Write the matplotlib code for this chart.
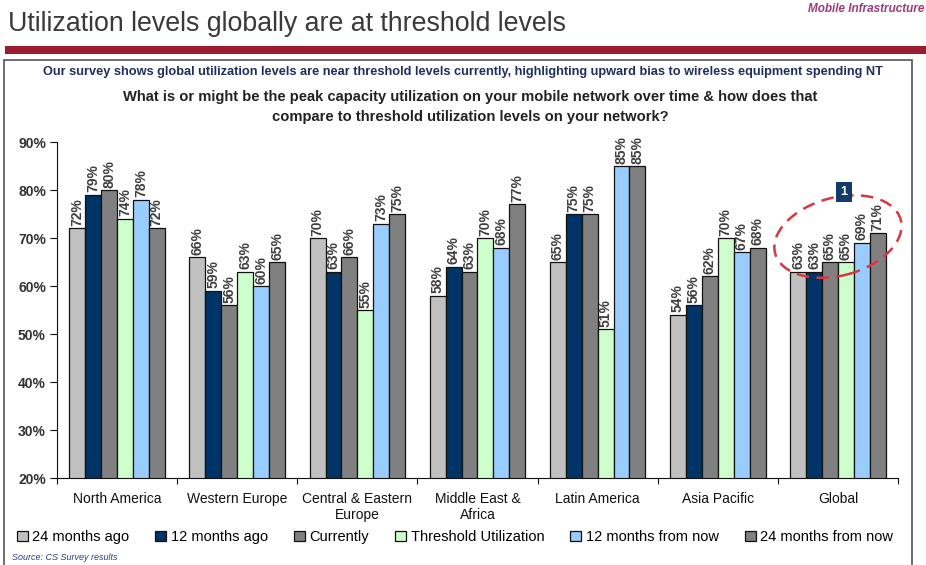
import numpy as np
import matplotlib
matplotlib.use("Agg")
import matplotlib.pyplot as plt
from matplotlib.patches import Ellipse, Rectangle
from matplotlib.transforms import ScaledTranslation
from matplotlib import font_manager

# dados do gráfico
regions = ["North America", "Western Europe", "Central & Eastern\nEurope",
           "Middle East &\nAfrica", "Latin America", "Asia Pacific", "Global"]
series_names = ["24 months ago", "12 months ago", "Currently",
                "Threshold Utilization", "12 months from now", "24 months from now"]
ago_24 = [72, 66, 70, 58, 65, 54, 63]
ago_12 = [79, 59, 63, 64, 75, 56, 63]
currently = [80, 56, 66, 63, 75, 62, 65]
threshold = [74, 63, 55, 70, 51, 70, 65]
from_now_12 = [78, 60, 73, 68, 85, 67, 69]
from_now_24 = [72, 65, 75, 77, 85, 68, 71]
yticks = [20, 30, 40, 50, 60, 70, 80, 90]

series = [ago_24, ago_12, currently, threshold, from_now_12, from_now_24]
colors = ["#C0C0C0", "#003366", "#808080", "#CCFFCC", "#99CCFF", "#808080"]

# fonte estreita se existir
names = {f.name for f in font_manager.fontManager.ttflist}
narrow = "Liberation Sans Narrow" if "Liberation Sans Narrow" in names else "Liberation Sans"
plt.rcParams["font.family"] = [narrow, "DejaVu Sans"]

fig = plt.figure(figsize=(9.26, 5.65), dpi=100)
W, H = 926, 565

def fx(px):
    return px / W

def fy(py):
    return 1 - py / H

# cabeçalho
fig.text(fx(8), fy(24), "Utilization levels globally are at threshold levels",
         fontsize=19.3, color="#3A3A3A", va="center", ha="left")
fig.text(fx(924), fy(9), "Mobile Infrastructure", fontsize=8.5, style="italic",
         weight="bold", color="#9E3A7A", va="center", ha="right")
fig.patches.append(Rectangle((fx(5), fy(54)), fx(921), 8 / H, transform=fig.transFigure,
                             facecolor="#9B1B30", edgecolor="none"))
fig.patches.append(Rectangle((fx(4), fy(566)), fx(908), 506 / H, transform=fig.transFigure,
                             facecolor="none", edgecolor="#555555", linewidth=1.2))

fig.text(fx(463), fy(72), "Our survey shows global utilization levels are near threshold levels currently, "
         "highlighting upward bias to wireless equipment spending NT",
         fontsize=9.2, weight="bold", color="#1F2F5F", ha="center", va="center")
fig.text(fx(470), fy(107), "What is or might be the peak capacity utilization on your mobile network over time & how does that\n"
         "compare to threshold utilization levels on your network?",
         fontsize=10.6, weight="bold", color="#222222", ha="center", va="center", linespacing=1.55)

# eixo principal
ax = fig.add_axes([fx(57), fy(478), (898 - 57) / W, (478 - 142) / H])
x = np.arange(len(regions))
bw = 0.1325
for i, (vals, c, name) in enumerate(zip(series, colors, series_names)):
    pos = x + (i - 2.5) * bw
    bars = ax.bar(pos, vals, bw, color=c, edgecolor="#111111", linewidth=0.9, label=name, zorder=2)
    for xp, v in zip(pos, vals):
        ax.text(xp, v + 0.5, f"{v}%", rotation=90, ha="center", va="bottom",
                fontsize=10, weight="bold", color="#404040")

ax.set_ylim(20, 90)
ax.set_xlim(-0.5, len(regions) - 0.5)
ax.set_yticks(yticks)
ax.set_yticklabels([f"{t}%" for t in yticks], fontsize=10, weight="bold", color="#333333")
ax.set_xticks(np.arange(len(regions) + 1) - 0.5)
ax.set_xticklabels([])
ax.set_xticks(x, minor=True)
ax.set_xticklabels(regions, minor=True, fontsize=10, color="#111111")
ax.tick_params(axis="x", which="minor", length=0, pad=10)
ax.tick_params(axis="x", which="major", length=4, direction="out", color="#111111")
ax.tick_params(axis="y", length=5, direction="out", color="#111111", pad=3)
ax.spines["top"].set_visible(False)
ax.spines["right"].set_visible(False)
ax.spines["left"].set_color("#111111")
ax.spines["bottom"].set_color("#111111")

# destaque no grupo Global
trans = fig.dpi_scale_trans + ScaledTranslation(6.0, 70.3, ax.transData)
ax.add_patch(Ellipse((0, 0), 1.30, 0.78, angle=15, transform=trans, fill=False,
                     edgecolor="#D9363E", linestyle=(0, (5, 3)), linewidth=1.8,
                     clip_on=False, zorder=3))
ax.text(6.05, 79.6, "1", ha="center", va="center", fontsize=9, weight="bold", color="white",
        bbox=dict(boxstyle="square,pad=0.35", facecolor="#123A6B", edgecolor="none"), zorder=4)

# legenda
handles, labels = ax.get_legend_handles_labels()
leg = fig.legend(handles, labels, loc="center", bbox_to_anchor=(fx(455), fy(537)), ncol=6,
                 frameon=False, fontsize=10.5, handlelength=0.75, handleheight=0.75,
                 handletextpad=0.3, columnspacing=1.8, borderaxespad=0)

fig.text(fx(12), fy(558), "Source: CS Survey results", fontsize=6.5, style="italic",
         color="#2A3F7F", ha="left", va="center")

fig.savefig("out.png", dpi=100)
